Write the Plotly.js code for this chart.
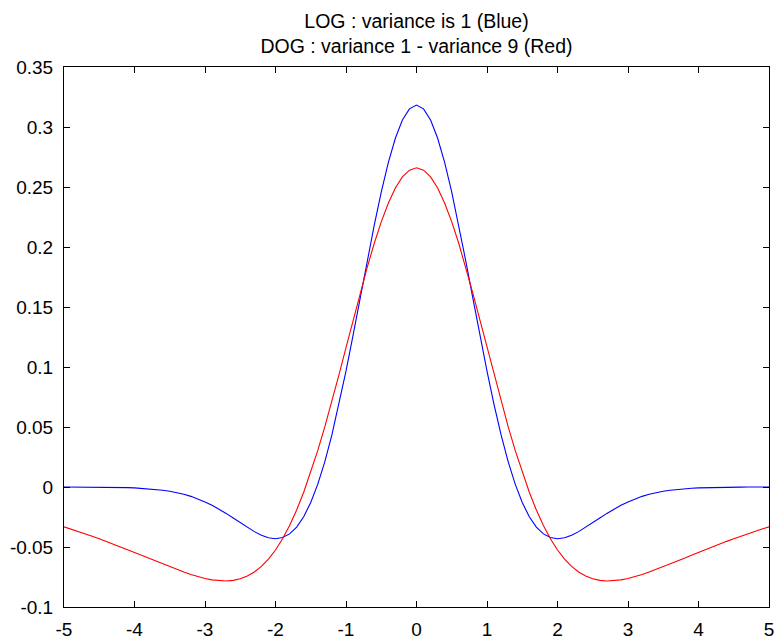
<!DOCTYPE html>
<html>
<head>
<meta charset="utf-8">
<script src="https://cdn.plot.ly/plotly-3.0.1.min.js"></script>
<style>html,body{margin:0;padding:0;background:#fff;}#chart{width:778px;height:640px;}</style>
</head>
<body>
<div id="chart"></div>
<script>
const xValues = [-5.0,-4.9,-4.8,-4.7,-4.6,-4.5,-4.4,-4.3,-4.2,-4.1,-4.0,-3.9,-3.8,-3.7,-3.6,-3.5,-3.4,-3.3,-3.2,-3.1,-3.0,-2.9,-2.8,-2.7,-2.6,-2.5,-2.4,-2.3,-2.2,-2.1,-2.0,-1.9,-1.8,-1.7,-1.6,-1.5,-1.4,-1.3,-1.2,-1.1,-1.0,-0.9,-0.8,-0.7,-0.6,-0.5,-0.4,-0.3,-0.2,-0.1,0.0,0.1,0.2,0.3,0.4,0.5,0.6,0.7,0.8,0.9,1.0,1.1,1.2,1.3,1.4,1.5,1.6,1.7,1.8,1.9,2.0,2.1,2.2,2.3,2.4,2.5,2.6,2.7,2.8,2.9,3.0,3.1,3.2,3.3,3.4,3.5,3.6,3.7,3.8,3.9,4.0,4.1,4.2,4.3,4.4,4.5,4.6,4.7,4.8,4.9,5.0];

const logBlue = [0,0,0,0,-0.0001,-0.0001,-0.0002,-0.0003,-0.0004,-0.0005,-0.0007,-0.0011,-0.0014,-0.0020,-0.0027,-0.0036,-0.0047,-0.0061,-0.0078,-0.0099,-0.0124,-0.0152,-0.0184,-0.0220,-0.0258,-0.0297,-0.0336,-0.0372,-0.0402,-0.0423,-0.0431,-0.0421,-0.0391,-0.0334,-0.0248,-0.0129,0.0024,0.0212,0.0434,0.0687,0.0965,0.1263,0.1572,0.1881,0.2180,0.2458,0.2703,0.2906,0.3058,0.3151,0.3183,0.3151,0.3058,0.2906,0.2703,0.2458,0.2180,0.1881,0.1572,0.1263,0.0965,0.0687,0.0434,0.0212,0.0024,-0.0129,-0.0248,-0.0334,-0.0391,-0.0421,-0.0431,-0.0423,-0.0402,-0.0372,-0.0336,-0.0297,-0.0258,-0.0220,-0.0184,-0.0152,-0.0124,-0.0099,-0.0078,-0.0061,-0.0047,-0.0036,-0.0027,-0.0020,-0.0014,-0.0011,-0.0007,-0.0005,-0.0004,-0.0003,-0.0002,-0.0001,-0.0001,0,0,0,0];

const dogRed = [-0.0332,-0.0350,-0.0370,-0.0390,-0.0410,-0.0432,-0.0453,-0.0476,-0.0499,-0.0522,-0.0545,-0.0569,-0.0593,-0.0617,-0.0641,-0.0665,-0.0687,-0.0709,-0.0729,-0.0747,-0.0762,-0.0774,-0.0781,-0.0783,-0.0778,-0.0764,-0.0742,-0.0708,-0.0662,-0.0601,-0.0525,-0.0432,-0.0321,-0.0192,-0.0044,0.0122,0.0305,0.0503,0.0714,0.0935,0.1162,0.1390,0.1614,0.1828,0.2029,0.2209,0.2365,0.2491,0.2584,0.2640,0.2660,0.2640,0.2584,0.2491,0.2365,0.2209,0.2029,0.1828,0.1614,0.1390,0.1162,0.0935,0.0714,0.0503,0.0305,0.0122,-0.0044,-0.0192,-0.0321,-0.0432,-0.0525,-0.0601,-0.0662,-0.0708,-0.0742,-0.0764,-0.0778,-0.0783,-0.0781,-0.0774,-0.0762,-0.0747,-0.0729,-0.0709,-0.0687,-0.0665,-0.0641,-0.0617,-0.0593,-0.0569,-0.0545,-0.0522,-0.0499,-0.0476,-0.0453,-0.0432,-0.0410,-0.0390,-0.0370,-0.0350,-0.0332];

const xTickVals = [-5,-4,-3,-2,-1,0,1,2,3,4,5];
const xTickText = ["-5","-4","-3","-2","-1","0","1","2","3","4","5"];
const yTickVals = [-0.1,-0.05,0,0.05,0.1,0.15,0.2,0.25,0.3,0.35];
const yTickText = ["-0.1","-0.05","0","0.05","0.1","0.15","0.2","0.25","0.3","0.35"];

const titleText = "LOG : variance is 1 (Blue)<br>DOG : variance 1 - variance 9 (Red)";

const FONT = '"Liberation Sans", Arial, Helvetica, sans-serif';

const traces = [
  {x: xValues, y: logBlue, type: 'scatter', mode: 'lines', line: {color: '#0000ff', width: 1.1}, name: 'LOG'},
  {x: xValues, y: dogRed, type: 'scatter', mode: 'lines', line: {color: '#ff0000', width: 1.1}, name: 'DOG'}
];

const axisCommon = {
  showgrid: false, zeroline: false, showline: true, linecolor: '#000', linewidth: 1,
  mirror: 'ticks', ticks: 'inside', ticklen: 6, tickcolor: '#000', tickwidth: 1,
  tickmode: 'array', tickfont: {family: FONT, size: 19, color: '#000'}
};

const layout = {
  width: 778, height: 640,
  margin: {l: 64, r: 9, t: 67, b: 33, pad: 0},
  paper_bgcolor: '#fff', plot_bgcolor: '#fff',
  showlegend: false,
  title: {text: titleText, font: {family: FONT, size: 19.5, color: '#000'}, x: 0.5, xref: 'paper', y: 1 - 28/640, yref: 'container', yanchor: 'middle'},
  xaxis: Object.assign({}, axisCommon, {range: [-5, 5], tickvals: xTickVals, ticktext: xTickText, ticklabelstandoff: 5}),
  yaxis: Object.assign({}, axisCommon, {range: [-0.1, 0.35], tickvals: yTickVals, ticktext: yTickText, ticklabelstandoff: 6})
};

Plotly.newPlot('chart', traces, layout, {staticPlot: true, displayModeBar: false});
</script>
</body>
</html>
